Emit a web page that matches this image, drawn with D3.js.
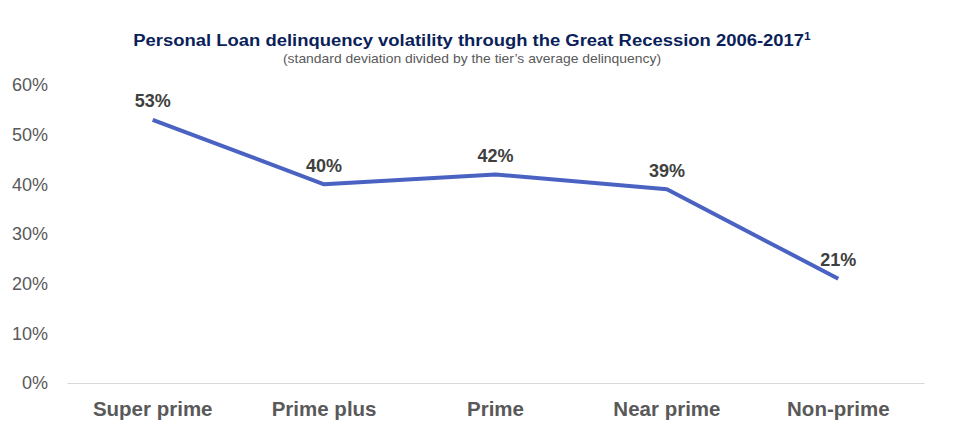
<!DOCTYPE html>
<html><head><meta charset="utf-8">
<script src="https://cdn.jsdelivr.net/npm/d3@7"></script>
<style>body{margin:0;background:#fff}svg{display:block;font-family:"Liberation Sans",Arial,sans-serif}</style>
</head><body><svg id="c" width="956" height="429"></svg>
<script>
const categories = ["Super prime","Prime plus","Prime","Near prime","Non-prime"];
const values = [53, 40, 42, 39, 21];
const yTicks = [0,10,20,30,40,50,60];
const title = "Personal Loan delinquency volatility through the Great Recession 2006-2017";
const subtitle = "(standard deviation divided by the tier\u2019s average delinquency)";

const svg = d3.select("#c");
const x = d3.scaleBand().domain(categories).range([67,924]);
const y = d3.scaleLinear().domain([0,60]).range([383,85]);

// title
const tg = svg.append("g").attr("transform","translate(472,46) scale(1.085,1)");
const t = tg.append("text").attr("x",0).attr("y",0).attr("text-anchor","middle")
  .attr("font-weight","bold").attr("font-size",17).attr("fill","#0b1f5a");
t.append("tspan").text(title);
t.append("tspan").attr("font-size",11).attr("dy",-6).text("1");
svg.append("g").attr("transform","translate(472,63) scale(1.07,1)")
  .append("text").attr("text-anchor","middle")
  .attr("font-size",13).attr("fill","#595959").text(subtitle);

// y axis labels
const ya = svg.append("g").attr("transform","translate(48,0)")
  .call(d3.axisLeft(y).tickValues(yTicks).tickFormat(d=>d+"%").tickSize(0).tickPadding(0));
ya.select(".domain").remove();
ya.selectAll("text").attr("font-size",18).attr("fill","#595959").attr("font-family","Liberation Sans, Arial, sans-serif");

// x axis
const xa = svg.append("g").attr("transform","translate(0,383)")
  .call(d3.axisBottom(x).tickSize(0).tickPadding(18));
xa.select(".domain").attr("stroke","#d9d9d9").attr("stroke-width",1);
xa.selectAll("text").attr("font-size",20.5).attr("font-weight","bold").attr("fill","#595959")
  .attr("font-family","Liberation Sans, Arial, sans-serif");

// line
const line = d3.line().x((d,i)=>x(categories[i])+x.bandwidth()/2).y(d=>y(d));
svg.append("path").datum(values).attr("d",line).attr("fill","none")
  .attr("stroke","#4a62c2").attr("stroke-width",4).attr("stroke-linejoin","round");

// labels
svg.selectAll(".lbl").data(values).enter().append("text")
  .attr("x",(d,i)=>x(categories[i])+x.bandwidth()/2)
  .attr("y",d=>y(d)-12.5).attr("text-anchor","middle")
  .attr("font-size",18).attr("font-weight","bold").attr("fill","#404040")
  .text(d=>d+"%");
</script></body></html>
